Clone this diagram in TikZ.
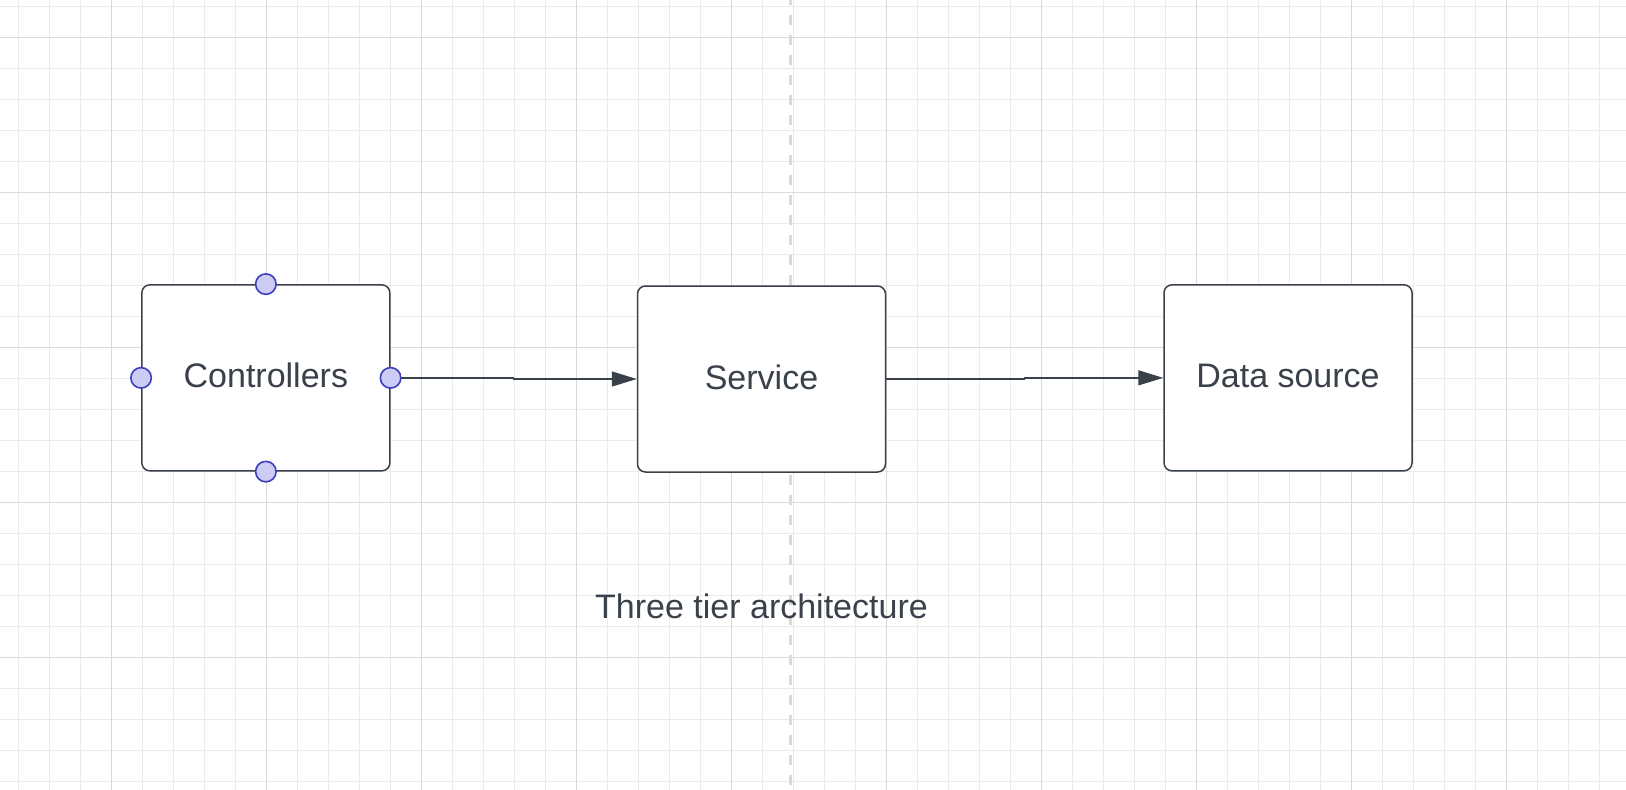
\documentclass[tikz,border=0pt]{standalone}
\usepackage{fontspec}
\setmainfont{Liberation Sans}
\usetikzlibrary{arrows.meta}
\definecolor{ink}{HTML}{3A414A}
\definecolor{gridminor}{HTML}{EBEBEB}
\definecolor{gridmajor}{HTML}{DADADA}
\definecolor{dashgray}{HTML}{D9D9D9}
\definecolor{ptfill}{HTML}{CCCCF5}
\definecolor{ptline}{HTML}{3D3DBF}
\tikzset{
  minorline/.style={draw=gridminor, line width=1pt},
  majorline/.style={draw=gridmajor, line width=1.2pt},
  tierbox/.style={draw=ink, fill=white, line width=1.5pt, rounded corners=8pt,
    minimum width=248pt, minimum height=186pt, inner sep=0pt,
    text=ink, font=\fontsize{34}{40}\selectfont, text height=20pt, text depth=0pt},
  conn/.style={draw=ink, line width=1.3pt, -{Triangle[length=25pt,width=15pt]}},
  cpoint/.style={circle, draw=ptline, fill=ptfill, line width=1.6pt, minimum size=20.5pt, inner sep=0pt},
  captiontext/.style={text=ink, font=\fontsize{34}{40}\selectfont, inner sep=0pt}
}
\begin{document}
\begin{tikzpicture}[x=1pt, y=-1pt]
\useasboundingbox (0,0) rectangle (1626,790);
\fill[white] (0,0) rectangle (1626,790);
\begin{scope}
\clip (0,0) rectangle (1626,790);
\foreach \i in {0,...,52} \draw[minorline] ({18.3+31*\i},0) -- ++(0,790);
\foreach \i in {0,...,25} \draw[minorline] (0,{6.3+31*\i}) -- ++(1626,0);
\foreach \i in {0,...,9} \draw[majorline] ({111.3+155*\i},0) -- ++(0,790);
\foreach \i in {0,...,4} \draw[majorline] (0,{37.3+155*\i}) -- ++(1626,0);
\draw[dashgray, line width=3pt, dash pattern=on 10pt off 10pt, dash phase=5pt] (790.3,0) -- (790.3,790);
\end{scope}

\node[tierbox] (c) at (265.85,377.85) {Controllers};
\node[tierbox] (s) at (761.5,379) {Service};
\node[tierbox] (d) at (1288,377.85) {Data source};

\coordinate (m1) at (513.3,377.85);
\coordinate (m2) at (1024.3,379);
\draw[conn] (c.east) -- (m1) |- (s.west);
\draw[conn] (s.east) -- (m2) |- (d.west);

\node[cpoint] (pt) at (c.north) {};
\node[cpoint] (pb) at (c.south) {};
\node[cpoint] (pl) at (c.west) {};
\node[cpoint] (pr) at (c.east) {};

\node[captiontext, anchor=base] (cap) at (761.5,618.3) {Three tier architecture};
\end{tikzpicture}
\end{document}
